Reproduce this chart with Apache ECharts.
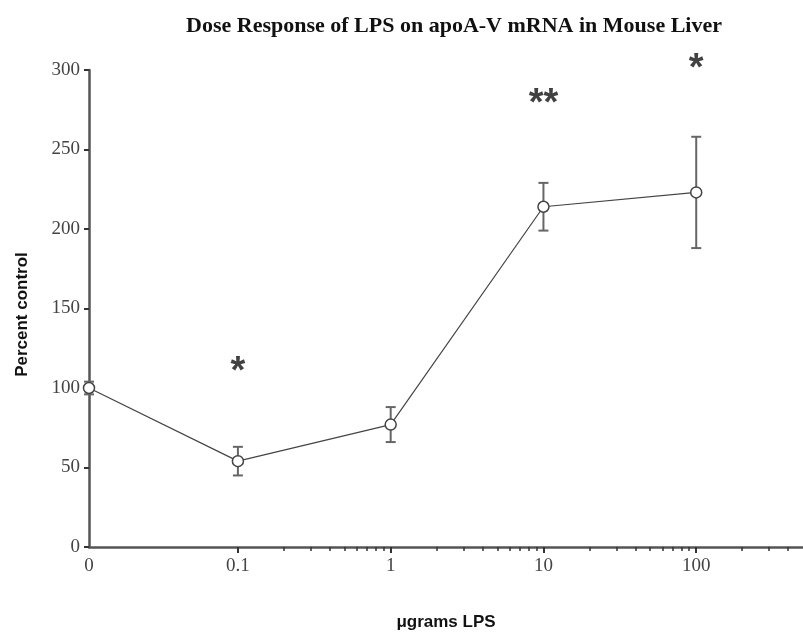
<!DOCTYPE html>
<html>
<head>
<meta charset="utf-8">
<script src="https://cdn.jsdelivr.net/npm/echarts@6/dist/echarts.min.js"></script>
<style>html,body{margin:0;padding:0;background:#fff;}#c{width:803px;height:632px;}</style>
</head>
<body>
<div id="c"></div>
<script>
// Data
const doseLabels = ['0', '0.1', '1', '10', '100'];
const doseValues = [0.0106, 0.1, 1, 10, 100]; // "0" dose is drawn at the axis origin
const meanPct = [100, 54, 77, 214, 223];
const errPct = [4, 9, 11, 15, 35];
const majorTicks = [0.1, 1, 10, 100];
const minorTicks = [0.2,0.3,0.4,0.5,0.6,0.7,0.8,0.9,2,3,4,5,6,7,8,9,20,30,40,50,60,70,80,90,200,300,400];
const yTicks = [0, 50, 100, 150, 200, 250, 300];
const sigX = [0.1, 10, 100];
const sigY = [110, 278, 300.5];
const sigText = ['*', '**', '*'];

const xMin = doseValues[0];
const xMax = 500;

const chart = echarts.init(document.getElementById('c'));
const serif = 'Liberation Serif';
const sans = 'Liberation Sans';

const lineData = doseValues.map((x, i) => [x, meanPct[i]]);
const errData = doseValues.map((x, i) => [x, meanPct[i] - errPct[i], meanPct[i] + errPct[i]]);
const sigData = sigX.map((x, i) => [x, sigY[i], sigText[i]]);

chart.setOption({
  animation: false,
  title: {
    text: 'Dose Response of LPS on apoA-V mRNA in Mouse Liver',
    left: 449, top: 10, textAlign: 'center',
    textStyle: { fontFamily: serif, fontWeight: 'bold', fontSize: 22, color: '#111' }
  },
  grid: { left: 89, right: 0, top: 70, bottom: 85, containLabel: false, outerBoundsMode: 'none' },
  xAxis: [{
    type: 'log', min: xMin, max: xMax,
    name: 'μgrams LPS', nameLocation: 'middle', nameGap: 67,
    nameTextStyle: { fontFamily: sans, fontWeight: 'bold', fontSize: 17, color: '#111' },
    axisLine: { lineStyle: { color: '#555', width: 2.5 } },
    axisTick: { customValues: majorTicks, length: 6, lineStyle: { color: '#333', width: 2 } },
    axisLabel: {
      customValues: doseValues, margin: 10,
      fontFamily: serif, fontSize: 19, color: '#444',
      formatter: v => { const i = doseValues.findIndex(d => Math.abs(d - v) / d < 1e-6); return i >= 0 ? doseLabels[i] : ''; }
    },
    splitLine: { show: false }
  }, {
    type: 'log', min: xMin, max: xMax, position: 'bottom',
    axisLine: { show: false },
    axisTick: { customValues: minorTicks, length: 4, lineStyle: { color: '#333', width: 1.5 } },
    axisLabel: { show: false },
    splitLine: { show: false }
  }],
  yAxis: {
    type: 'value', min: 0, max: 300, interval: 50,
    name: 'Percent control', nameLocation: 'middle', nameGap: 58, nameRotate: 90,
    nameTextStyle: { fontFamily: sans, fontWeight: 'bold', fontSize: 17, color: '#111', padding: [0, 12, 0, 0] },
    axisLine: { show: true, lineStyle: { color: '#555', width: 2.5 } },
    axisTick: { show: true, length: 5, lineStyle: { color: '#333', width: 2 } },
    axisLabel: { margin: 9, fontFamily: serif, fontSize: 19, color: '#444',
      formatter: v => yTicks.includes(v) ? String(v) : '' },
    splitLine: { show: false }
  },
  series: [{
    type: 'custom', xAxisIndex: 0, z: 2,
    data: errData,
    renderItem: (params, api) => {
      const x = api.value(0);
      const lo = api.coord([x, api.value(1)]);
      const hi = api.coord([x, api.value(2)]);
      const w = 5;
      const style = { stroke: '#666', lineWidth: 2 };
      return { type: 'group', children: [
        { type: 'line', shape: { x1: lo[0], y1: lo[1], x2: hi[0], y2: hi[1] }, style },
        { type: 'line', shape: { x1: lo[0] - w, y1: lo[1], x2: lo[0] + w, y2: lo[1] }, style },
        { type: 'line', shape: { x1: hi[0] - w, y1: hi[1], x2: hi[0] + w, y2: hi[1] }, style }
      ]};
    },
    clip: false
  }, {
    type: 'line', xAxisIndex: 0, z: 3,
    data: lineData,
    symbol: 'circle', symbolSize: 11, showSymbol: true,
    lineStyle: { color: '#444', width: 1.2 },
    itemStyle: { color: '#fff', borderColor: '#444', borderWidth: 1.5 },
    clip: false
  }, {
    type: 'scatter', xAxisIndex: 0, z: 4,
    data: sigData, symbolSize: 0, clip: false,
    label: { show: true, position: 'inside', formatter: p => p.data[2],
      fontFamily: sans, fontWeight: 'bold', fontSize: 38, color: '#111' }
  }]
});
</script>
</body>
</html>
